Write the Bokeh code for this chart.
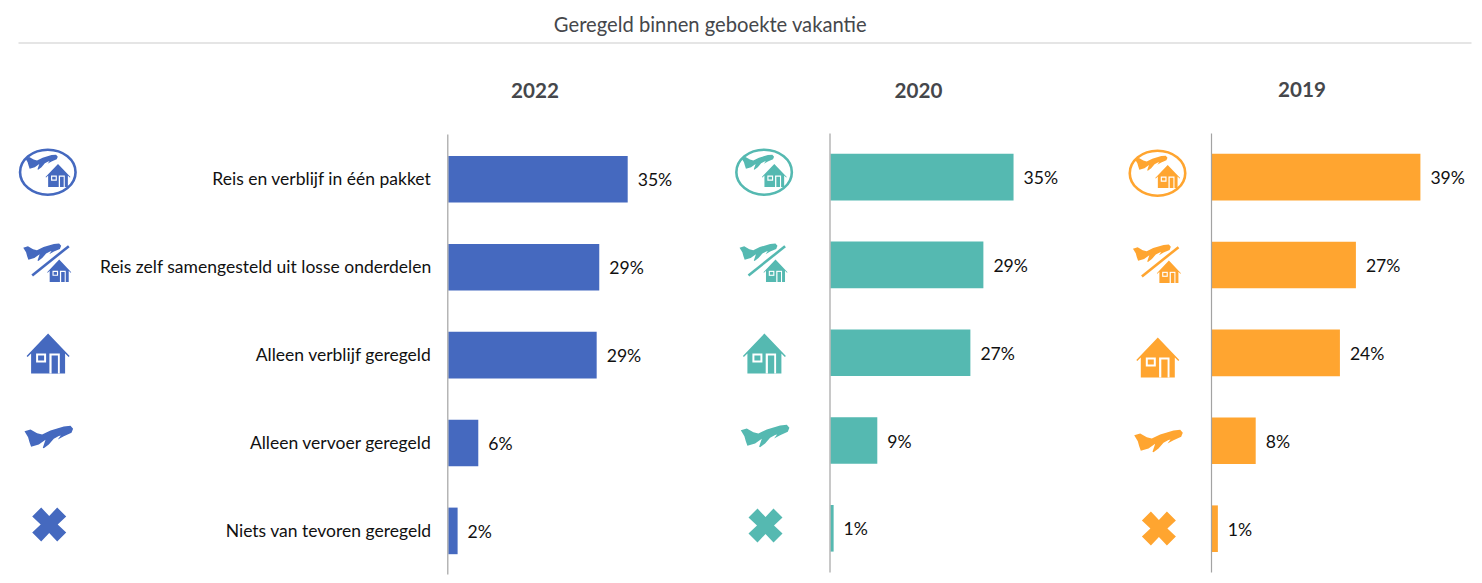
from bokeh.plotting import figure
from bokeh.models import Range1d
from bokeh.core.properties import value
from bokeh.embed import file_html
from bokeh.resources import INLINE

chart_title = "Geregeld binnen geboekte vakantie"
categories = ["Reis en verblijf in één pakket", "Reis zelf samengesteld uit losse onderdelen",
              "Alleen verblijf geregeld", "Alleen vervoer geregeld", "Niets van tevoren geregeld"]
years = ["2022", "2020", "2019"]
values_2022 = [34.7, 29.2, 28.7, 5.8, 1.8]
values_2020 = [35.2, 29.4, 26.9, 9.0, 0.6]
values_2019 = [39.1, 27.0, 24.0, 8.2, 1.1]
labels_2022 = ["35%", "29%", "29%", "6%", "2%"]
labels_2020 = ["35%", "29%", "27%", "9%", "1%"]
labels_2019 = ["39%", "27%", "24%", "8%", "1%"]
colors = ["#4569BF", "#55B9B1", "#FFA530"]

# page-pixel space of the canvas (image coordinates)
W, H = 1474, 575
X0, X1, Y0, Y1 = 0, W, 0, H

p = figure(width=W, height=H, x_range=Range1d(X0, X1), y_range=Range1d(Y1, Y0),
           output_backend="svg", toolbar_location=None, min_border=0,
           x_axis_location=None, y_axis_location=None, outline_line_color=None,
           background_fill_color="white", border_fill_color="white")
p.grid.visible = False

FONT = value("Lato")

p.text([710], [23.5], text=[chart_title], text_font=FONT, text_font_size="20.2px", text_color="#45474b",
       text_align="center", text_baseline="middle")
p.segment([18], [42.5], [1471], [42.5], line_color="#dcdcdc", line_width=1.5)

# plane / house / cross outlines, in local units around each icon's centre
PLANE = [(-24.3, -5.3), (-18.3, -7), (-11.7, -3.3), (-6.7, -2), (1.7, -6), (15, -10), (21.7, -10.7),
         (24.3, -7.7), (22.7, -3.7), (15, -0.3), (9, 3), (12, -1), (10, -0.5), (5, 2.3), (0, 8), (-5, 11.7),
         (-6, 11.3), (-3.3, 3.3), (-10, 8), (-17.7, 10.3), (-19.3, 5.7), (-20.7, 0.7)]
HOUSE = [(0, -20), (21.5, 2.5), (20.5, 3.5), (17, 0), (17, 20), (-17, 20), (-17, 0), (-20.5, 3.5), (-21.5, 2.5)]
WIN_OUT = [(-12, 0), (-2, 0), (-2, 9), (-12, 9)]
WIN_IN = [(-10, 2), (-4, 2), (-4, 7), (-10, 7)]
DOOR_OUT = [(1.3, 0), (11.7, 0), (11.7, 20), (1.3, 20)]
DOOR_IN = [(3.5, 2), (9.8, 2), (9.8, 20), (3.5, 20)]
CROSS = [(-17, -8), (-8, -17), (0, -8.5), (8, -17), (17, -8), (8.5, 0), (17, 8), (8, 17), (0, 8.5),
         (-8, 17), (-17, 8), (-8.5, 0)]


def shape(pts, cx, cy, s, color):
    p.patch([cx + s * a for a, _ in pts], [cy + s * b for _, b in pts], fill_color=color, line_color=None)


def plane(cx, cy, s, color):
    shape(PLANE, cx, cy, s, color)


def house(cx, cy, s, color):
    shape(HOUSE, cx, cy, s, color)
    shape(WIN_OUT, cx, cy, s, "white")
    shape(WIN_IN, cx, cy, s, color)
    shape(DOOR_OUT, cx, cy, s, "white")
    shape(DOOR_IN, cx, cy, s, color)


panels = [
    dict(year=years[0], vals=values_2022, labs=labels_2022, color=colors[0], axis=447.8, scale=5.17,
         row0=178.8, step=87.9, year_x=534.5, year_y=90, line=(134, 574), ix=47.3, dy=(0, 0, 0, 0, 0)),
    dict(year=years[1], vals=values_2020, labs=labels_2020, color=colors[1], axis=830.0, scale=5.2,
         row0=176.6, step=87.8, year_x=918, year_y=90, line=(133, 572), ix=763.6, dy=(0, 0, 0, -1, 1)),
    dict(year=years[2], vals=values_2019, labs=labels_2019, color=colors[2], axis=1211.5, scale=5.33,
         row0=176.6, step=87.9, year_x=1301.5, year_y=89, line=(133, 572), ix=1157, dy=(1, 1, 4, 4, 4)),
]

for i, P in enumerate(panels):
    xn, yn = f"x{i}", f"y{i}"
    p.extra_x_ranges[xn] = Range1d((X0 - P["axis"]) / P["scale"], (X1 - P["axis"]) / P["scale"])
    p.extra_y_ranges[yn] = Range1d((Y1 - P["row0"]) / P["step"], (Y0 - P["row0"]) / P["step"])
    rows = list(range(len(categories)))
    p.hbar(y=rows, left=[0] * 5, right=P["vals"], height=46.6 / P["step"], fill_color=P["color"],
           line_color=None, x_range_name=xn, y_range_name=yn)
    p.text(P["vals"], rows, text=P["labs"], x_offset=10, y_offset=0.5, text_font=FONT, text_font_size="17.6px",
           text_color="#111111", text_align="left", text_baseline="middle", x_range_name=xn, y_range_name=yn)
    p.segment([P["axis"] - 0.5], [P["line"][0]], [P["axis"] - 0.5], [P["line"][1]], line_color="#a3a3a3", line_width=1.2)
    p.text([P["year_x"]], [P["year_y"]], text=[P["year"]], text_font=FONT, text_font_size="20.6px",
           text_font_style="bold", text_color="#45474b", text_align="center", text_baseline="middle")

    c, ix, dy = P["color"], P["ix"], P["dy"]
    p.ellipse([ix], [171.7 + dy[0]], width=[55.5], height=[45], fill_color="white", line_color=c, line_width=2.6)
    plane(ix - 6.3, 161.3 + dy[0], 0.67, c)
    house(ix + 10.2, 175 + dy[0], 0.58, c)
    plane(ix - 5.6, 251.3 + dy[1], 0.78, c)
    p.segment([ix - 15.6], [275 + dy[1]], [ix + 21], [245.7 + dy[1]], line_color=c, line_width=2.6)
    house(ix + 11.4, 270.3 + dy[1], 0.56, c)
    house(ix + 0.3, 353 + dy[2], 1, c)
    plane(ix + 1, 436 + dy[3], 1, c)
    shape(CROSS, ix + 1.4, 524 + dy[4], 1, c)

# category labels belong to the first panel's rows
p.text([431] * 5, list(range(5)), text=categories, y_offset=-0.5, text_font=FONT, text_font_size="17.5px",
       text_color="#111111", text_align="right", text_baseline="middle", y_range_name="y0")

open("out.html", "w").write(file_html(p, INLINE))
